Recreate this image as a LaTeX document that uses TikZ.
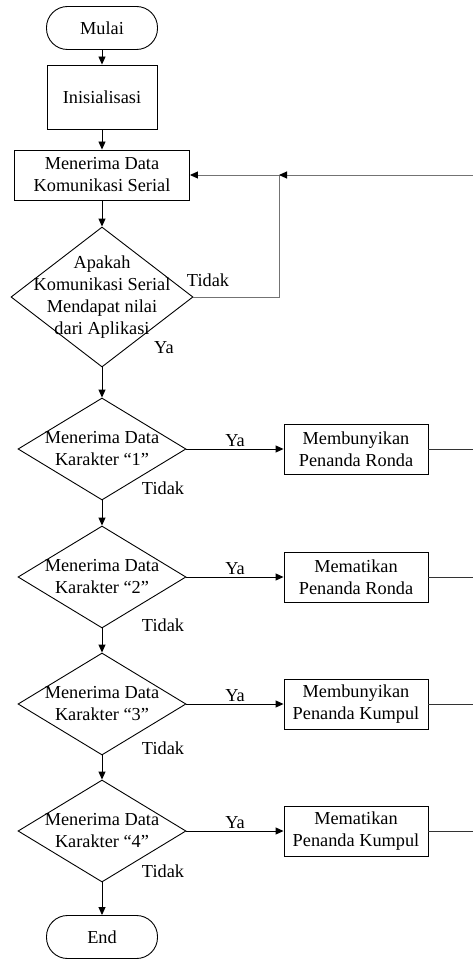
\documentclass[tikz,border=0pt]{standalone}
\usepackage{fontspec}
\setmainfont{Liberation Serif}
\usetikzlibrary{shapes.geometric,arrows.meta}

\begin{document}
\begin{tikzpicture}[x=1pt,y=-1pt,line width=0.9pt,
    every node/.style={font=\fontsize{18.3}{22}\selectfont},
    term/.style={draw,rounded corners=21pt,minimum width=111pt,minimum height=43pt},
    proc/.style={draw,align=center,minimum height=50pt},
    dec/.style={draw,diamond,inner sep=0pt,minimum width=168pt,minimum height=102pt},
    txt/.style={align=center,inner sep=0pt},
    arr/.style={-{Triangle[length=8pt,width=7pt,color=black]}},
    back/.style={draw=black!55}]
    \useasboundingbox (0,0) rectangle (473,960);

    % Start, setup and serial read
    \node[term] (mulai) at (102,28) {Mulai};
    \node[proc,minimum width=110pt,minimum height=64pt] (init) at (102,97) {Inisialisasi};
    \node[proc,minimum width=175pt] (serial) at (102,175) {Menerima Data\\Komunikasi Serial};

    % First check
    \node[dec,minimum width=182pt,minimum height=140pt] (cek) at (102,297) {};
    \node[txt] (cekt) at (cek) {Apakah\\Komunikasi Serial\\Mendapat nilai\\dari Aplikasi};
    \node (cekno) at (208,280) {Tidak};
    \node (cekya) at (164,348) {Ya};

    % Back line: right edge and Tidak branch join at jn
    \coordinate (jn) at (279,175);
    \coordinate (kanan) at (473,175);

    % Character checks 1..4
    \foreach \i/\y/\what/\td in {1/449/Membunyikan\\Penanda Ronda/39,
                                 2/577/Mematikan\\Penanda Ronda/48,
                                 3/704/Membunyikan\\Penanda Kumpul/44,
                                 4/831/Mematikan\\Penanda Kumpul/40} {
        \node[dec] (k\i) at (102,\y) {};
        \node[txt] (k\i t) at (k\i) {Menerima Data\\Karakter “\i”};
        \node[proc,minimum width=144pt] (act\i) at (356,\y) {\what};
        \coordinate (out\i) at (473,\y);
        \node (tidak\i) at (163,\y+\td) {Tidak};
        \draw[arr] (k\i.east) -- node[above,inner sep=2pt] (ya\i) {Ya} (act\i.west);
        \draw[black!80] (act\i.east) -- (out\i);
    }

    \node[term] (end) at (102,937) {End};

    % Edges
    \draw[arr] (mulai) -- (init);
    \draw[arr] (init) -- (serial);
    \draw[arr] (serial) -- (cek.north);
    \draw[back] (cek.east) -| (jn);
    \draw[arr,back] (jn) -- (serial.east);
    \draw[arr,back] (kanan) -- (jn);
    \draw[arr] (cek.south) -- (k1.north);
    \foreach \i/\j in {1/2,2/3,3/4} \draw[arr] (k\i.south) -- (k\j.north);
    \draw[arr] (k4.south) -- (end);
\end{tikzpicture}
\end{document}
